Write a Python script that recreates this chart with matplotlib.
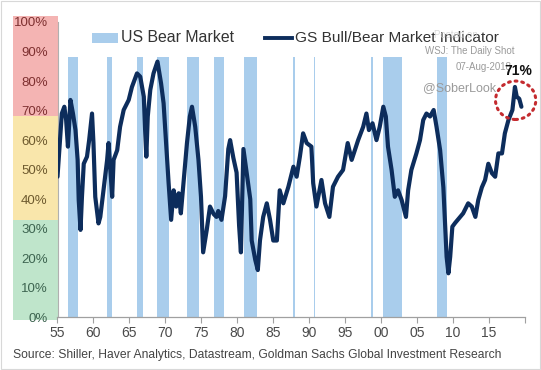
import matplotlib
matplotlib.use("Agg")
import matplotlib.pyplot as plt
from matplotlib.patches import Rectangle, Ellipse
from matplotlib.lines import Line2D
from matplotlib.transforms import blended_transform_factory

# ---------------- data ----------------
years = [1955.0, 1955.15, 1955.6, 1955.95, 1956.2, 1956.45, 1956.8, 1957.15, 1957.5, 1957.8,
         1957.95, 1958.2, 1958.4, 1958.65, 1959.1, 1959.4, 1959.8, 1960.0, 1960.25, 1960.7,
         1960.95, 1961.4, 1961.9, 1962.1, 1962.6, 1962.8, 1963.3, 1963.7, 1964.2, 1964.9,
         1965.35, 1966.05, 1966.5, 1967.0, 1967.2, 1967.35, 1967.55, 1967.9, 1968.35, 1968.9,
         1969.4, 1969.75, 1970.1, 1970.45, 1970.8, 1971.15, 1971.5, 1971.85, 1972.15, 1972.55,
         1973.0, 1973.4, 1973.7, 1974.15, 1974.6, 1974.95, 1975.25, 1975.75, 1976.2, 1976.7,
         1977.1, 1977.35, 1977.8, 1978.3, 1978.75, 1979.0, 1979.45, 1979.9, 1980.25, 1980.5,
         1980.85, 1981.3, 1981.8, 1982.0, 1982.5, 1982.85, 1983.15, 1983.6, 1984.1, 1984.55,
         1985.0, 1985.5, 1985.9, 1986.4, 1987.1, 1987.8, 1988.25, 1988.7, 1989.15, 1989.65,
         1990.3, 1990.55, 1991.0, 1991.7, 1992.2, 1992.8, 1993.3, 1994.0, 1994.7, 1995.35,
         1995.9, 1996.35, 1996.8, 1997.5, 1997.95, 1998.3, 1998.8, 1999.35, 1999.8, 2000.3,
         2000.65, 2000.95, 2001.45, 2001.9, 2002.35, 2002.85, 2003.45, 2003.75, 2004.2, 2004.9,
         2005.4, 2005.85, 2006.3, 2006.8, 2007.3, 2007.7, 2008.2, 2008.65, 2008.9, 2009.1,
         2009.35, 2009.6, 2009.9, 2010.3, 2011.0, 2011.4, 2012.1, 2012.6, 2013.1, 2013.5,
         2014.0, 2014.45, 2014.9, 2015.4, 2015.85, 2016.3, 2016.8, 2017.2, 2017.7, 2018.25,
         2018.6, 2018.85, 2019.2, 2019.5]
indicator = [47.6, 53, 69, 71.3, 66.8, 57.8, 73.6, 69, 63.4, 53.3,
             39.7, 29.6, 40.8, 52, 54.4, 60, 69, 59, 40.8, 31.8,
             34, 43, 53.3, 59, 40.8, 53.3, 56.6, 64.5, 70.2, 73.6,
             78, 82.6, 81.5, 74.7, 62.3, 54.4, 68, 77, 82.6, 86.6,
             79.2, 72.5, 59, 45.4, 33, 43, 37.5, 42, 35.2, 46.5,
             59, 68, 71.3, 64.5, 53.3, 40.8, 22, 29.6, 37.5, 35,
             34, 36, 33, 41, 57, 60, 54, 49, 31, 22,
             57, 49, 40, 26, 19.4, 16, 26, 34, 38.6, 33,
             26, 26, 43, 38.6, 44.2, 51, 47.6, 54.4, 62.3, 59,
             57.8, 45.4, 37.5, 46.5, 38.6, 34, 44.2, 47.6, 49.9, 59,
             53.3, 56.6, 60, 64.5, 69, 63.4, 65.7, 60, 64.5, 71.3,
             68, 57.8, 49.9, 40.8, 43, 39.7, 34, 43, 49.9, 55.5,
             60, 66.8, 69, 68, 70.2, 64.5, 56.6, 44, 30.7, 20.5,
             14.9, 20.5, 30.7, 32, 34, 35.2, 38.6, 37.5, 34, 39.7,
             44, 46.5, 52, 48.8, 47.6, 55.5, 55.5, 62.3, 66.8, 70.2,
             78, 74.7, 74, 71.3]

bear_start = [1956.46, 1961.93, 1966.0, 1968.9, 1973.0, 1976.7, 1980.98, 1987.7, 1990.6, 1998.55, 2000.3, 2007.7]
bear_end = [1957.85, 1962.62, 1966.85, 1970.5, 1974.7, 1978.2, 1982.7, 1988.0, 1990.8, 1998.8, 2002.9, 2009.2]
bear_height = 88

xtick_pos = [1955, 1960, 1965, 1970, 1975, 1980, 1985, 1990, 1995, 2000, 2005, 2010, 2015, 2020]
xtick_labels = ['55', '60', '65', '70', '75', '80', '85', '90', '95', '00', '05', '10', '15', '']
ytick_pos = [0, 10, 20, 30, 40, 50, 60, 70, 80, 90, 100]
ytick_labels = ['0%', '10%', '20%', '30%', '40%', '50%', '60%', '70%', '80%', '90%', '100%']

zone_bounds = [(-1, 33), (33, 68), (68, 102)]
zone_colors = ['#bfe5cb', '#f9e6ab', '#f4b4b3']
zone_text_colors = ['#3d6450', '#6e5a2e', '#7e3030']

latest_label = '71%'
source_text = 'Source: Shiller, Haver Analytics, Datastream, Goldman Sachs Global Investment Research'

# ---------------- figure ----------------
W, H = 541, 370
fig = plt.figure(figsize=(W / 100, H / 100), dpi=100)
fig.patch.set_facecolor('white')

def fx(px):
    return px / W

def fy(py):
    return 1 - py / H

ax = fig.add_axes([fx(57.5), fy(317.3), fx(525) - fx(57.5), fy(22) - fy(317.3)])
ax.set_xlim(1955, 2020)
ax.set_ylim(0, 100)

bar_color = '#a9cdec'
line_color = '#0d2d5c'

for s, e in zip(bear_start, bear_end):
    ax.bar(s, bear_height, width=e - s, align='edge', color=bar_color, edgecolor='none', zorder=1)

ax.plot(years, indicator, color=line_color, lw=3.0, solid_joinstyle='round',
        solid_capstyle='round', zorder=3)

# zone bands left of axis
trans = blended_transform_factory(ax.transAxes, ax.transData)
for (lo, hi), c in zip(zone_bounds, zone_colors):
    ax.add_patch(Rectangle((-0.095, lo), 0.095, hi - lo, transform=trans,
                           facecolor=c, edgecolor='none', clip_on=False, zorder=0))

for sp in ['top', 'right']:
    ax.spines[sp].set_visible(False)
ax.spines['left'].set_color('#b0b0b0')
ax.spines['left'].set_linewidth(0.8)
ax.spines['bottom'].set_color('#a0a0a0')
ax.spines['bottom'].set_linewidth(0.9)

sans = ['Liberation Sans', 'DejaVu Sans']
ax.set_xticks(xtick_pos)
ax.set_xticklabels(xtick_labels)
ax.tick_params(axis='x', length=4, width=0.8, color='#a0a0a0', pad=2,
               labelsize=10, labelcolor='#4a4a4a')
ax.set_yticks(ytick_pos)
ax.set_yticklabels(ytick_labels)
ax.tick_params(axis='y', length=0, pad=7, labelsize=9.5)
for lab, v in zip(ax.get_yticklabels(), ytick_pos):
    for (lo, hi), tc in zip(zone_bounds, zone_text_colors):
        if lo <= v < hi:
            lab.set_color(tc)
for lab in ax.get_xticklabels() + ax.get_yticklabels():
    lab.set_family(sans)

# legend
fig.add_artist(Rectangle((fx(92), fy(43)), fx(118) - fx(92), fy(33) - fy(43),
                         transform=fig.transFigure, facecolor=bar_color, edgecolor='none'))
fig.text(fx(121), fy(38), 'US Bear Market', fontsize=11.4, color='#333333',
         va='center', ha='left', family=sans)
fig.add_artist(Line2D([fx(265), fx(292)], [fy(38), fy(38)], transform=fig.transFigure,
                      color=line_color, lw=2.8))
fig.text(fx(295), fy(38), 'GS Bull/Bear Market Indicator', fontsize=11.1, color='#333333',
         va='center', ha='left', family=sans)

# watermark texts
fig.text(fx(434), fy(35), 'Posted on', fontsize=7, color='#d0d0d0', va='center', ha='left',
         family=sans, alpha=0.8)
fig.text(fx(425), fy(51), 'WSJ: The Daily Shot', fontsize=7, color='#9a9a9a', va='center', ha='left',
         family=sans)
fig.text(fx(456), fy(67), '07-Aug-2018', fontsize=7, color='#9a9a9a', va='center', ha='left',
         family=sans)
fig.text(fx(423), fy(88), '@SoberLook', fontsize=9, color='#9a9a9a', va='center', ha='left',
         family=sans)

# annotation: latest reading circled
recent = [i for i, y in enumerate(years) if y >= 2018]
peak_i = max(recent, key=lambda i: indicator[i])
ax.add_patch(Ellipse((years[peak_i] + 0.1, indicator[peak_i] - 4.5), 5.6, 13,
                     facecolor='none', edgecolor='#c42b2f', lw=2.2, linestyle=(0, (0.6, 1.6)),
                     capstyle='round', clip_on=False, zorder=4))
fig.text(fx(518), fy(71), latest_label, fontsize=10, fontweight='bold', color='#111111',
         va='center', ha='center', family=sans)

# source line, font size fitted to the reference width
src = fig.text(fx(13), fy(355), source_text, fontsize=10, color='#444444',
               va='center', ha='left', family=sans)
fig.canvas.draw()
wpx = src.get_window_extent(fig.canvas.get_renderer()).width
src.set_fontsize(10 * 489 / wpx)

# thin frame around image
fig.add_artist(Rectangle((0.001, 0.003), 0.997, 0.994, transform=fig.transFigure,
                         facecolor='none', edgecolor='#d8d8d8', lw=0.8))

fig.savefig('out.png', dpi=100)
